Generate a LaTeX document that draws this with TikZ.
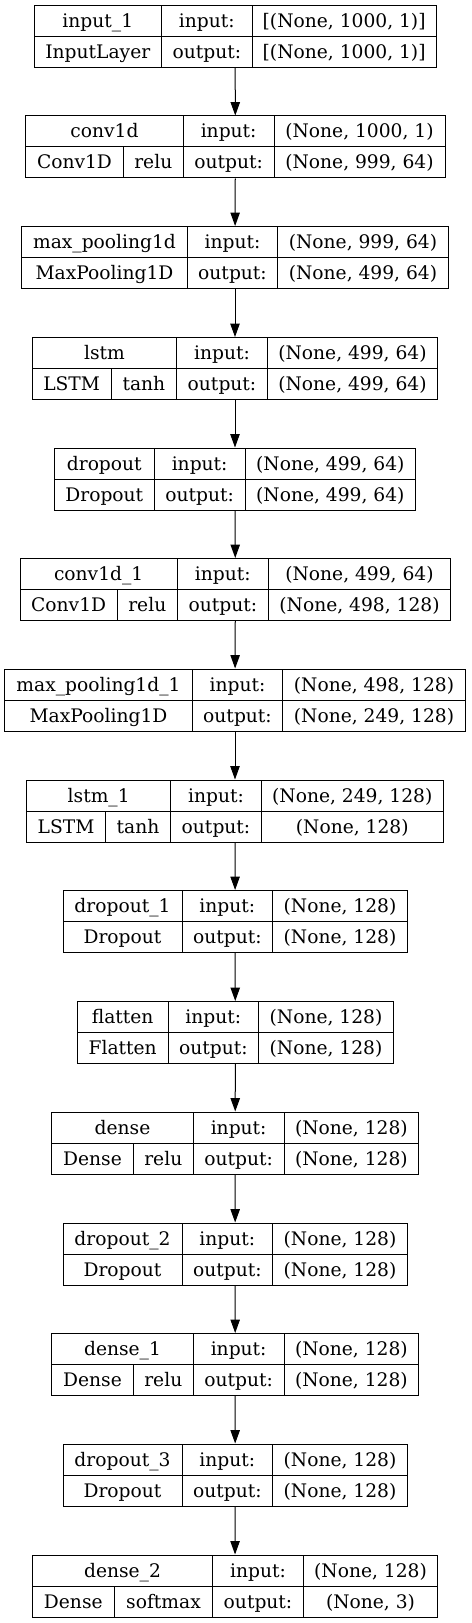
\documentclass[tikz,border=0pt]{standalone}
\usepackage{fontspec}
\setmainfont{DejaVu Serif}
\usetikzlibrary{arrows.meta}
\usetikzlibrary{calc}

\tikzset{
  layer/.style = {draw, rectangle, inner sep = 0pt, minimum height = 46.5pt},
  cell/.style  = {inner sep = 0pt, anchor = base, font = \fontsize{14pt}{17pt}\selectfont},
  flow/.style  = {-{Triangle[length = 10pt, width = 7pt]}},
}

% name, top, left, first divider, second divider, right, title, in shape, out shape
\newcommand{\layer}[9]{%
  \node[layer, minimum width = {(#6-#3)*0.75pt}] (#1) at ({(#3+#6)/2}, {#2+31}) {};
  \draw (#3, {#2+31}) -- (#6, {#2+31})
        (#4, #2) -- (#4, {#2+62})
        (#5, #2) -- (#5, {#2+62});
  \coordinate (#1-L) at (#3, {#2+53});
  \coordinate (#1-D) at (#4, {#2+53});
  \node[cell] (#1-name)   at ({(#3+#4)/2}, {#2+22}) {#7};
  \node[cell] (#1-inlbl)  at ({(#4+#5)/2}, {#2+22}) {input:};
  \node[cell] (#1-outlbl) at ({(#4+#5)/2}, {#2+53}) {output:};
  \node[cell] (#1-in)     at ({(#5+#6)/2}, {#2+22}) {#8};
  \node[cell] (#1-out)    at ({(#5+#6)/2}, {#2+53}) {#9};
}
% class name only
\newcommand{\plainclass}[2]{%
  \node[cell] (#1-class) at ($(#1-L)!0.5!(#1-D)$) {#2};
}
% class name and activation, split at x = #2
\newcommand{\actclass}[4]{%
  \coordinate (#1-S) at (#2, 0);
  \draw (#1-S |- #1.center) -- (#1-S |- #1.south);
  \node[cell] (#1-class) at ($(#1-L)!0.5!(#1-S |- #1-L)$) {#3};
  \node[cell] (#1-act)   at ($(#1-S |- #1-L)!0.5!(#1-D)$) {#4};
}

\begin{document}
\begin{tikzpicture}[x = 0.75pt, y = -0.75pt, line width = 0.75pt]
  \useasboundingbox (0,0) rectangle (471,1623);

  \layer{in1}{5.5}{34.3}{161.3}{252.3}{436}{input\_1}{[(None, 1000, 1)]}{[(None, 1000, 1)]}
  \plainclass{in1}{InputLayer}

  \layer{conv1}{116}{25.7}{183.3}{274}{445}{conv1d}{(None, 1000, 1)}{(None, 999, 64)}
  \actclass{conv1}{123.3}{Conv1D}{relu}

  \layer{pool1}{226.5}{21.7}{187.3}{277.7}{448.3}{max\_pooling1d}{(None, 999, 64)}{(None, 499, 64)}
  \plainclass{pool1}{MaxPooling1D}

  \layer{lstm1}{337.5}{32.3}{176.7}{267.3}{437.7}{lstm}{(None, 499, 64)}{(None, 499, 64)}
  \actclass{lstm1}{111}{LSTM}{tanh}

  \layer{drop1}{448}{54.3}{154.3}{245}{415.7}{dropout}{(None, 499, 64)}{(None, 499, 64)}
  \plainclass{drop1}{Dropout}

  \layer{conv2}{558.5}{20}{177.3}{268.3}{450.7}{conv1d\_1}{(None, 499, 64)}{(None, 498, 128)}
  \actclass{conv2}{117.3}{Conv1D}{relu}

  \layer{pool2}{669}{4.7}{192.3}{282.7}{465.3}{max\_pooling1d\_1}{(None, 498, 128)}{(None, 249, 128)}
  \plainclass{pool2}{MaxPooling1D}

  \layer{lstm2}{780}{26.7}{170.7}{261.3}{443.3}{lstm\_1}{(None, 249, 128)}{(None, 128)}
  \actclass{lstm2}{105.3}{LSTM}{tanh}

  \layer{drop2}{890.5}{63}{182}{272.7}{407.3}{dropout\_1}{(None, 128)}{(None, 128)}
  \plainclass{drop2}{Dropout}

  \layer{flat}{1001.5}{77.3}{168}{258.7}{393.3}{flatten}{(None, 128)}{(None, 128)}
  \plainclass{flat}{Flatten}

  \layer{dense1}{1112}{51.7}{193.3}{284}{418.7}{dense}{(None, 128)}{(None, 128)}
  \actclass{dense1}{133.3}{Dense}{relu}

  \layer{drop3}{1223}{63}{182}{272.7}{407.3}{dropout\_2}{(None, 128)}{(None, 128)}
  \plainclass{drop3}{Dropout}

  \layer{dense2}{1333.5}{51.7}{193.3}{284}{418.7}{dense\_1}{(None, 128)}{(None, 128)}
  \actclass{dense2}{133.3}{Dense}{relu}

  \layer{drop4}{1444}{63}{182}{272.7}{407.3}{dropout\_3}{(None, 128)}{(None, 128)}
  \plainclass{drop4}{Dropout}

  \layer{dense3}{1555}{32.3}{212.7}{303.3}{437.7}{dense\_2}{(None, 128)}{(None, 3)}
  \actclass{dense3}{114.3}{Dense}{softmax}

  % data flow
  \foreach \a/\b in {in1/conv1, conv1/pool1, pool1/lstm1, lstm1/drop1, drop1/conv2,
                     conv2/pool2, pool2/lstm2, lstm2/drop2, drop2/flat, flat/dense1,
                     dense1/drop3, drop3/dense2, dense2/drop4, drop4/dense3}
    \draw[flow] (\a) -- (\b);
\end{tikzpicture}
\end{document}
